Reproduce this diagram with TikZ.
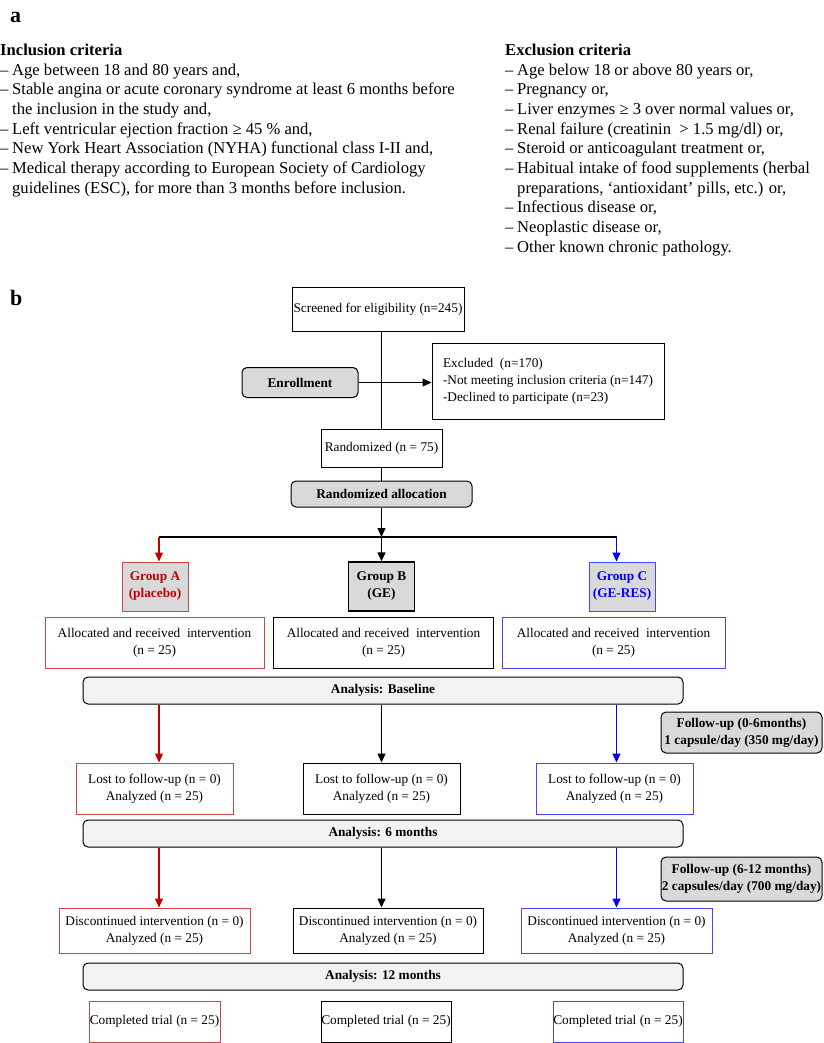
\documentclass[tikz,border=0pt]{standalone}
\usepackage{fontspec}
\setmainfont{Liberation Serif}
\usepackage{tikz}
\usetikzlibrary{arrows.meta}

\definecolor{grpred}{RGB}{192,0,0}
\definecolor{boxred}{RGB}{200,70,70}
\definecolor{grpblue}{RGB}{0,0,255}
\definecolor{boxblue}{RGB}{70,70,255}
\definecolor{fillgray}{RGB}{217,217,217}
\definecolor{barfill}{RGB}{242,242,242}

\newcommand{\critem}[1]{\makebox[12pt][l]{–}#1}
\newcommand{\critcont}[1]{\hspace*{12pt}#1}

\begin{document}
\begin{tikzpicture}[x=1pt,y=-1pt,
		crit/.style={anchor=north west,inner sep=0pt,align=left,font=\fontsize{16.6}{19.7}\selectfont},
		panel/.style={anchor=base west,inner sep=0pt,font=\fontsize{22}{24}\selectfont\bfseries},
		box/.style={draw,inner sep=0pt,align=center,line width=1pt,font=\fontsize{13.3}{17}\selectfont},
		greybox/.style={box,rounded corners=5pt,fill=fillgray,font=\fontsize{13.3}{17}\selectfont\bfseries},
		barbox/.style={box,rounded corners=5pt,fill=barfill,minimum width=600pt,minimum height=27pt,font=\fontsize{13.3}{17}\selectfont\bfseries},
		grpbox/.style={box,fill=fillgray,minimum width=66pt,minimum height=49pt,font=\fontsize{13.3}{17}\selectfont\bfseries},
		redcol/.style={draw=boxred},
		bluecol/.style={draw=boxblue},
		link/.style={line width=1.2pt},
		arr/.style={link,-{Triangle[length=9pt,width=8pt]}}
	]
		\useasboundingbox (0,0) rectangle (823,1043);

		\node[panel] (labA) at (10,23) {a};
		\node[crit] (inclcrit) at (0,43.6) {\textbf{Inclusion criteria}\\
			\critem{Age between 18 and 80 years and,}\\
			\critem{Stable angina or acute coronary syndrome at least 6 months before}\\
			\critcont{the inclusion in the study and,}\\
			\critem{Left ventricular ejection fraction ≥ 45 \% and,}\\
			\critem{New York Heart Association (NYHA) functional class I-II and,}\\
			\critem{Medical therapy according to European Society of Cardiology}\\
			\critcont{guidelines (ESC), for more than 3 months before inclusion.}};
		\node[crit] (exclcrit) at (505,43.6) {\textbf{Exclusion criteria}\\
			\critem{Age below 18 or above 80 years or,}\\
			\critem{Pregnancy or,}\\
			\critem{Liver enzymes ≥ 3 over normal values or,}\\
			\critem{Renal failure (creatinin\ \ > 1.5 mg/dl) or,}\\
			\critem{Steroid or anticoagulant treatment or,}\\
			\critem{Habitual intake of food supplements (herbal}\\
			\critcont{preparations, ‘antioxidant’ pills, etc.) or,}\\
			\critem{Infectious disease or,}\\
			\critem{Neoplastic disease or,}\\
			\critem{Other known chronic pathology.}};
		\node[panel] (labB) at (10,305) {b};

		\node[box,minimum width=172pt,minimum height=44pt] (screen) at (378,309) {Screened for eligibility (n=245)};
		\node[greybox,minimum width=116pt,minimum height=30pt] (enroll) at (300,382.5) {Enrollment};
		\node[box,minimum width=232pt,minimum height=76pt,align=left] (excl) at (548,381) {Excluded\ \ (n=170)\\-Not meeting inclusion criteria (n=147)\\-Declined to participate (n=23)};
		\node[box,minimum width=121pt,minimum height=38pt] (rand) at (381.5,448) {Randomized (n = 75)};
		\node[greybox,minimum width=181pt,minimum height=26pt] (alloc) at (381.5,494) {Randomized allocation};

		\coordinate (colA) at (159,537);
		\coordinate (colB) at (381.5,537);
		\coordinate (colC) at (616.5,537);

		\node[grpbox,redcol,text=grpred] (grpA) at (155,586.5) {Group A\\(placebo)};
		\node[grpbox,line width=1.4pt] (grpB) at (381.5,586.5) {Group B\\(GE)};
		\node[grpbox,bluecol,text=grpblue] (grpC) at (622,586.5) {Group C\\(GE-RES)};

		\node[box,redcol,minimum width=219pt,minimum height=51pt] (allocA) at (154.5,642.5) {Allocated and received\ \ intervention\\(n = 25)};
		\node[box,minimum width=220pt,minimum height=51pt] (allocB) at (383.5,642.5) {Allocated and received\ \ intervention\\(n = 25)};
		\node[box,bluecol,minimum width=223pt,minimum height=51pt] (allocC) at (613.5,642.5) {Allocated and received\ \ intervention\\(n = 25)};

		\node[barbox] (base) at (383,690.5) {Analysis: Baseline};
		\node[greybox,minimum width=161pt,minimum height=41pt] (fupA) at (741.5,732.5) {Follow-up (0-6months)\\1 capsule/day (350 mg/day)};

		\node[box,redcol,minimum width=157pt,minimum height=51pt] (lostA) at (154.5,788.5) {Lost to follow-up (n = 0)\\Analyzed (n = 25)};
		\node[box,minimum width=157pt,minimum height=51pt] (lostB) at (381.5,788.5) {Lost to follow-up (n = 0)\\Analyzed (n = 25)};
		\node[box,bluecol,minimum width=157pt,minimum height=51pt] (lostC) at (614.5,788.5) {Lost to follow-up (n = 0)\\Analyzed (n = 25)};

		\node[barbox] (six) at (383,833.5) {Analysis: 6 months};
		\node[greybox,minimum width=161pt,minimum height=44pt] (fupB) at (741.5,879) {Follow-up (6-12 months)\\2 capsules/day (700 mg/day)};

		\node[box,redcol,minimum width=191pt,minimum height=45pt] (discA) at (154.5,930.5) {Discontinued intervention (n = 0)\\Analyzed (n = 25)};
		\node[box,minimum width=190pt,minimum height=45pt] (discB) at (388,930.5) {Discontinued intervention (n = 0)\\Analyzed (n = 25)};
		\node[box,bluecol,minimum width=191pt,minimum height=45pt] (discC) at (616.5,930.5) {Discontinued intervention (n = 0)\\Analyzed (n = 25)};

		\node[barbox] (twelve) at (383,976.5) {Analysis: 12 months};

		\node[box,redcol,minimum width=131pt,minimum height=41pt] (compA) at (154.5,1021.5) {Completed trial (n = 25)};
		\node[box,minimum width=130pt,minimum height=41pt] (compB) at (386,1021.5) {Completed trial (n = 25)};
		\node[box,bluecol,minimum width=130pt,minimum height=41pt] (compC) at (618,1021.5) {Completed trial (n = 25)};

		\draw[link] (rand.north |- screen.south) -- (rand.north);
		\draw[arr] (enroll.east) -- (enroll.east -| excl.west);
		\draw[link] (rand.south) -- (alloc.north);
		\draw[arr] (alloc.south) -- (colB);
		\draw[link] (colA) -- (colC);

		\draw[arr,grpred] (colA) -- (colA |- grpA.north);
		\draw[arr] (colB) -- (colB |- grpB.north);
		\draw[arr,grpblue] (colC) -- (colC |- grpC.north);

		\draw[arr,grpred] (colA |- base.south) -- (colA |- lostA.north);
		\draw[arr] (colB |- base.south) -- (colB |- lostB.north);
		\draw[arr,grpblue] (colC |- base.south) -- (colC |- lostC.north);

		\draw[arr,grpred] (colA |- six.south) -- (colA |- discA.north);
		\draw[arr] (colB |- six.south) -- (colB |- discB.north);
		\draw[arr,grpblue] (colC |- six.south) -- (colC |- discC.north);
	\end{tikzpicture}
\end{document}
